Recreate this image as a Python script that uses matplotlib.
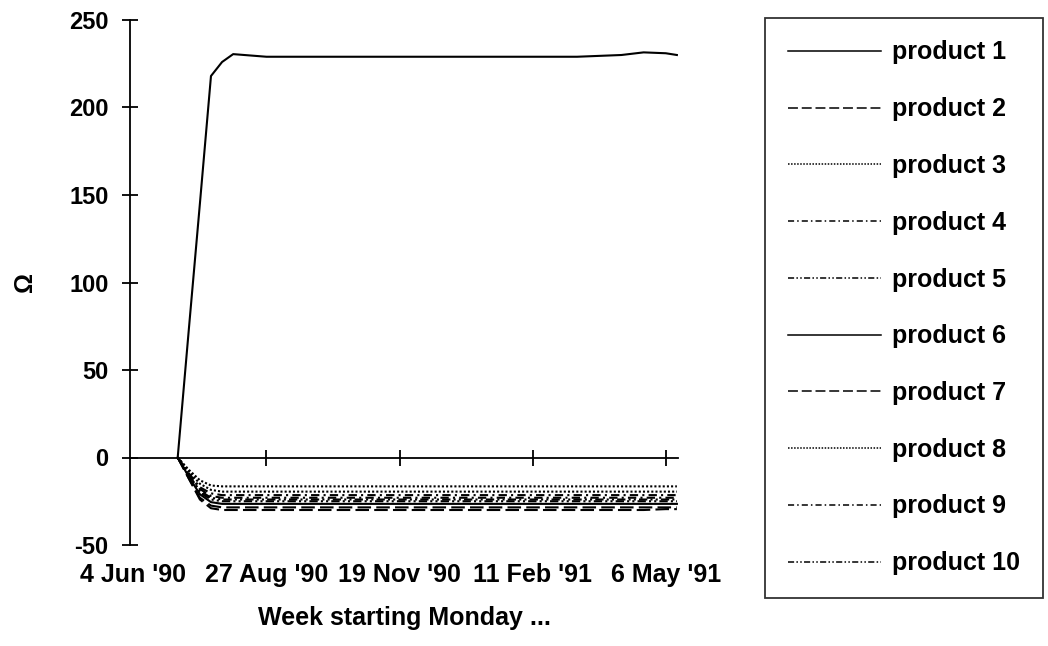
import matplotlib
matplotlib.use("Agg")
import matplotlib.pyplot as plt

plt.rcParams['font.family'] = ['Liberation Sans', 'DejaVu Sans']
plt.rcParams['font.weight'] = 'bold'
plt.rcParams['axes.labelweight'] = 'bold'
plt.rcParams['axes.unicode_minus'] = False

# weeks counted from Monday 4 Jun '90
weeks = [4, 5, 6, 7, 8, 9, 10, 12, 16, 20, 24, 28, 32, 36, 40, 44, 46, 48, 49]

tick_weeks = [0, 12, 24, 36, 48]
tick_labels = ["4 Jun '90", "27 Aug '90", "19 Nov '90", "11 Feb '91", "6 May '91"]

product1 = [0, 73, 145, 218, 226, 230.5, 230, 229, 229, 229, 229, 229, 229, 229, 229, 230, 231.5, 231, 230]
product2 = [0, -12, -24, -29, -30, -30, -30, -30, -30, -30, -30, -30, -30, -30, -30, -30, -30, -29.5, -29.5]
product3 = [0, -7, -13, -16, -16.5, -16.5, -16.5, -16.5, -16.5, -16.5, -16.5, -16.5, -16.5, -16.5, -16.5, -16.5, -16.5, -16.5, -16.5]
product4 = [0, -9, -17, -20.5, -21.5, -21.5, -21.5, -21.5, -21.5, -21.5, -21.5, -21.5, -21.5, -21.5, -21.5, -21.5, -21.5, -21.5, -21.5]
product5 = [0, -10, -19, -23, -24, -24, -24, -24, -24, -24, -24, -24, -24, -24, -24, -24, -24, -24, -24]
product6 = [0, -11, -21, -25.5, -26.5, -26.5, -26.5, -26.5, -26.5, -26.5, -26.5, -26.5, -26.5, -26.5, -26.5, -26.5, -26.5, -26.5, -26.5]
product7 = [0, -12, -23, -27.5, -28.5, -28.5, -28.5, -28.5, -28.5, -28.5, -28.5, -28.5, -28.5, -28.5, -28.5, -28.5, -28.5, -28.5, -28.5]
product8 = [0, -8, -15, -18.5, -19.5, -19.5, -19.5, -19.5, -19.5, -19.5, -19.5, -19.5, -19.5, -19.5, -19.5, -19.5, -19.5, -19.5, -19.5]
product9 = [0, -9.5, -18, -22, -23, -23, -23, -23, -23, -23, -23, -23, -23, -23, -23, -23, -23, -23, -23]
product10 = [0, -10.5, -20, -24, -25, -25, -25, -25, -25, -25, -25, -25, -25, -25, -25, -25, -25, -25, -25]

series = [product1, product2, product3, product4, product5,
          product6, product7, product8, product9, product10]
names = ["product %d" % (i + 1) for i in range(10)]

solid = '-'
dashed = (0, (6.5, 2.5))
dotted = (0, (1, 1))
dashdot = (0, (4, 2, 1, 2))
dashdotdot = (0, (4, 1.5, 1, 1.5, 1, 1.5))
styles = [solid, dashed, dotted, dashdot, dashdotdot,
          solid, dashed, dotted, dashdot, dashdotdot]

fig = plt.figure(figsize=(10.48, 6.46), dpi=100)
ax = fig.add_axes([130 / 1048, 101 / 646, 548 / 1048, 525 / 646])

for vals, name, ls in zip(series, names, styles):
    ax.plot(weeks, vals, color='black', linestyle=ls, linewidth=1.5, label=name)

ax.set_xlim(-0.3, 49.1)
ax.set_ylim(-50, 250)
ax.set_yticks([-50, 0, 50, 100, 150, 200, 250])

ax.spines['top'].set_visible(False)
ax.spines['right'].set_visible(False)
ax.spines['bottom'].set_position(('data', 0))
ax.spines['left'].set_linewidth(1.3)
ax.spines['bottom'].set_linewidth(1.3)

# tick marks on the zero line (none at the y axis itself)
ax.set_xticks(tick_weeks[1:])
ax.tick_params(axis='x', direction='inout', length=11, width=1.3, labelbottom=False)
ax.tick_params(axis='y', direction='inout', length=11, width=1.3, pad=10, labelsize=17)

# date labels sit under the plot, not at the zero line
sec = ax.secondary_xaxis(0)
sec.set_xticks(tick_weeks, tick_labels)
sec.tick_params(length=0, pad=13, labelsize=18)
sec.spines['bottom'].set_visible(False)
sec.set_xlabel("Week starting Monday ...", fontsize=18, labelpad=14)

ax.set_ylabel("\u03a9", fontsize=18)
ax.yaxis.set_label_coords(-0.17, 0.5)

leg = ax.legend(loc='upper left', bbox_to_anchor=(765 / 1048, 1 - 18 / 646),
                bbox_transform=fig.transFigure, fontsize=18, frameon=True,
                fancybox=False, edgecolor='black', borderpad=0.9,
                handlelength=3.75, handletextpad=0.45, labelspacing=1.31,
                borderaxespad=0)
leg.get_frame().set_linewidth(1.3)
for h in leg.get_lines():
    h.set_linewidth(1.1)

fig.savefig("out.png", dpi=100)
